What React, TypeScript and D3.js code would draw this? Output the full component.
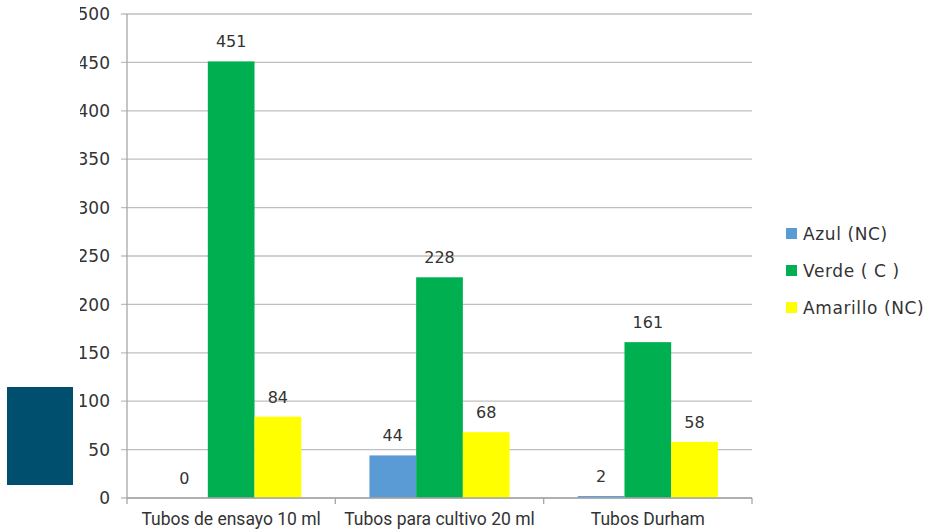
import React from 'react';
import * as d3 from 'd3';

const categories = ['Tubos de ensayo 10 ml', 'Tubos para cultivo 20 ml', 'Tubos Durham'];
const seriesNames = ['Azul (NC)', 'Verde ( C )', 'Amarillo (NC)'];
const seriesColors = ['#5B9BD5', '#00B050', '#FFFF00'];
const azul = [0, 44, 2];
const verde = [451, 228, 161];
const amarillo = [84, 68, 58];
const yTicks = [0, 50, 100, 150, 200, 250, 300, 350, 400, 450, 500];

const W = 931;
const H = 530;
const plot = { left: 127, right: 752, top: 14, bottom: 498 };
const textColor = '#333333';
const wideFont = '"DejaVu Sans", Verdana, sans-serif';
const catFont = 'Roboto, "Noto Sans", sans-serif';

export default function App() {
  const series = [azul, verde, amarillo];

  const x = d3.scaleBand<string>()
    .domain(categories)
    .range([plot.left, plot.right])
    .paddingInner(0)
    .paddingOuter(0);

  // bars fill ~2/3 of each category band (Excel gap width ~150%)
  const xInner = d3.scaleBand<string>()
    .domain(seriesNames)
    .range([0, x.bandwidth()])
    .paddingInner(0)
    .paddingOuter(0.73);

  const y = d3.scaleLinear().domain([0, 500]).range([plot.bottom, plot.top]);

  return (
    <svg
      width={W}
      height={H}
      style={{ position: 'absolute', left: 0, top: 0, background: '#fff' }}
    >
      <defs>
        <clipPath id="ylab-clip">
          <rect x={80} y={0} width={60} height={H} />
        </clipPath>
      </defs>

      {/* gridlines */}
      {yTicks.map(t => (
        <line
          key={'g' + t}
          x1={plot.left - 6}
          x2={plot.right}
          y1={y(t)}
          y2={y(t)}
          stroke="#BFBFBF"
          strokeWidth={1.3}
        />
      ))}

      {/* y labels, cut off at the left like the source */}
      <g clipPath="url(#ylab-clip)">
        {yTicks.map(t => (
          <text
            key={'yl' + t}
            x={110}
            y={y(t)}
            dy="0.36em"
            textAnchor="end"
            fontSize={17}
            fontFamily={wideFont}
            fill={textColor}
          >
            {t}
          </text>
        ))}
      </g>

      {/* bars */}
      {series.map((vals, si) =>
        categories.map((c, ci) => {
          const bx = (x(c) || 0) + (xInner(seriesNames[si]) || 0);
          return (
            <rect
              key={`b${si}-${ci}`}
              x={bx}
              y={y(vals[ci])}
              width={xInner.bandwidth()}
              height={plot.bottom - y(vals[ci])}
              fill={seriesColors[si]}
            />
          );
        })
      )}

      {/* value labels */}
      {series.map((vals, si) =>
        categories.map((c, ci) => {
          const cx = (x(c) || 0) + (xInner(seriesNames[si]) || 0) + xInner.bandwidth() / 2;
          return (
            <text
              key={`v${si}-${ci}`}
              x={cx}
              y={y(vals[ci]) - 14}
              textAnchor="middle"
              fontSize={16}
              fontFamily={wideFont}
              fill={textColor}
            >
              {vals[ci]}
            </text>
          );
        })
      )}

      {/* axes */}
      <line x1={plot.left} x2={plot.left} y1={plot.top} y2={plot.bottom + 6} stroke="#A6A6A6" strokeWidth={1.3} />
      <line x1={plot.left} x2={plot.right} y1={plot.bottom} y2={plot.bottom} stroke="#A6A6A6" strokeWidth={1.3} />
      {categories.map(c => (
        <line
          key={'ct' + c}
          x1={(x(c) || 0) + x.bandwidth()}
          x2={(x(c) || 0) + x.bandwidth()}
          y1={plot.bottom}
          y2={plot.bottom + 6}
          stroke="#A6A6A6"
          strokeWidth={1.3}
        />
      ))}

      {/* category labels */}
      {categories.map(c => (
        <text
          key={'cl' + c}
          x={(x(c) || 0) + x.bandwidth() / 2}
          y={525}
          textAnchor="middle"
          fontSize={17.5}
          fontFamily={catFont}
          fill={textColor}
        >
          {c}
        </text>
      ))}

      {/* legend */}
      {seriesNames.map((s, i) => (
        <g key={'lg' + s} transform={`translate(786, ${228 + i * 37})`}>
          <rect x={0} y={0} width={11} height={11} fill={seriesColors[i]} />
          <text
            x={17}
            y={5.5}
            dy="0.36em"
            fontSize={17}
            letterSpacing={0.6}
            fontFamily={wideFont}
            fill={textColor}
          >
            {s}
          </text>
        </g>
      ))}

      {/* dark block at the left edge */}
      <rect x={7} y={387} width={66} height={98} fill="#004F6E" />
    </svg>
  );
}
